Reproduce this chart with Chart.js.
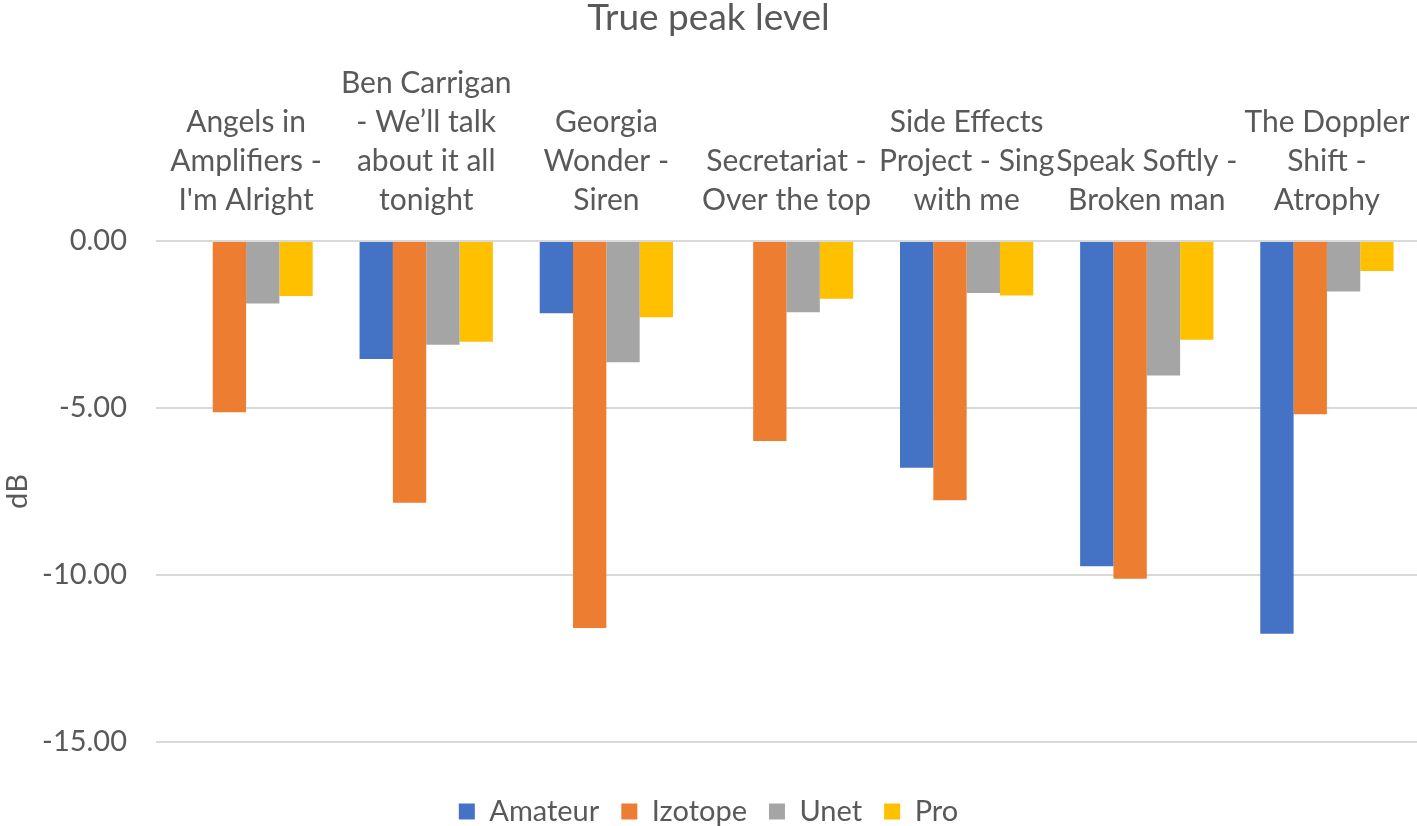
<!DOCTYPE html>
<html>
<head>
<meta charset="utf-8">
<script src="https://cdn.jsdelivr.net/npm/chart.js@4/dist/chart.umd.min.js"></script>
<style>
  html, body { margin: 0; padding: 0; background: #fff; }
  #wrap { width: 1417px; height: 826px; }
</style>
</head>
<body>
<div id="wrap"><canvas id="peakChart"></canvas></div>
<script>
// true peak level per track, dB
const songs = [
    ['Angels in', 'Amplifiers -', "I'm Alright"],
    ['Ben Carrigan', '- We\u2019ll talk', 'about it all', 'tonight'],
    ['Georgia', 'Wonder -', 'Siren'],
    ['Secretariat -', 'Over the top'],
    ['Side Effects', 'Project - Sing', 'with me'],
    ['Speak Softly -', 'Broken man'],
    ['The Doppler', 'Shift -', 'Atrophy']
];
const amateur = [null, -3.53, -2.16, null, -6.79, -9.74, -11.76];
const izotope = [-5.13, -7.84, -11.59, -5.99, -7.76, -10.11, -5.19];
const unet = [-1.87, -3.11, -3.63, -2.13, -1.56, -4.03, -1.51];
const pro = [-1.65, -3.02, -2.28, -1.73, -1.63, -2.96, -0.90];
const yTicks = [0, -5, -10, -15];

const textColor = '#595959';
const fontName = 'Lato, "Open Sans", sans-serif';

new Chart(document.getElementById('peakChart'), {
    type: 'bar',
    data: {
        labels: songs,
        datasets: [
            { label: 'Amateur', data: amateur, backgroundColor: '#4472c4' },
            { label: 'Izotope', data: izotope, backgroundColor: '#ed7d31' },
            { label: 'Unet', data: unet, backgroundColor: '#a5a5a5' },
            { label: 'Pro', data: pro, backgroundColor: '#ffc000' }
        ]
    },
    options: {
        responsive: true,
        maintainAspectRatio: false,
        animation: false,
        datasets: {
            bar: { categoryPercentage: 0.74, barPercentage: 1.0 }
        },
        layout: { padding: { left: 0, right: 0, top: 0, bottom: -10 } },
        plugins: {
            title: {
                display: true,
                text: 'True peak level',
                color: textColor,
                font: { family: fontName, size: 37, weight: 'normal', lineHeight: 1.0 },
                padding: { top: 0, bottom: 27 }
            },
            legend: {
                position: 'bottom',
                labels: {
                    color: textColor,
                    boxWidth: 16,
                    boxHeight: 16,
                    padding: 22,
                    font: { family: fontName, size: 29 }
                }
            },
            tooltip: { enabled: false }
        },
        scales: {
            x: {
                position: 'top',
                grid: { display: false, tickLength: 21 },
                border: { display: false },
                ticks: {
                    color: textColor,
                    font: { family: fontName, size: 30, lineHeight: 1.3 },
                    padding: 0,
                    maxRotation: 0,
                    autoSkip: false
                }
            },
            // empty band between the plot and the legend
            gap: {
                type: 'linear',
                position: 'bottom',
                grid: { display: false },
                border: { display: false },
                ticks: { display: false },
                afterFit: (axis) => { axis.height = 33; }
            },
            y: {
                min: -15,
                max: 0,
                afterBuildTicks: (axis) => {
                    axis.ticks = yTicks.map(v => ({ value: v }));
                },
                afterFit: (axis) => { axis.width = 156; },
                grid: { color: '#d9d9d9', lineWidth: 2, drawTicks: false },
                border: { display: false },
                ticks: {
                    color: textColor,
                    font: { family: fontName, size: 29 },
                    padding: 29,
                    callback: (v) => Number(v).toFixed(2)
                },
                title: {
                    display: true,
                    text: 'dB',
                    color: textColor,
                    font: { family: fontName, size: 29 },
                    padding: 0
                }
            }
        }
    }
});
</script>
</body>
</html>
